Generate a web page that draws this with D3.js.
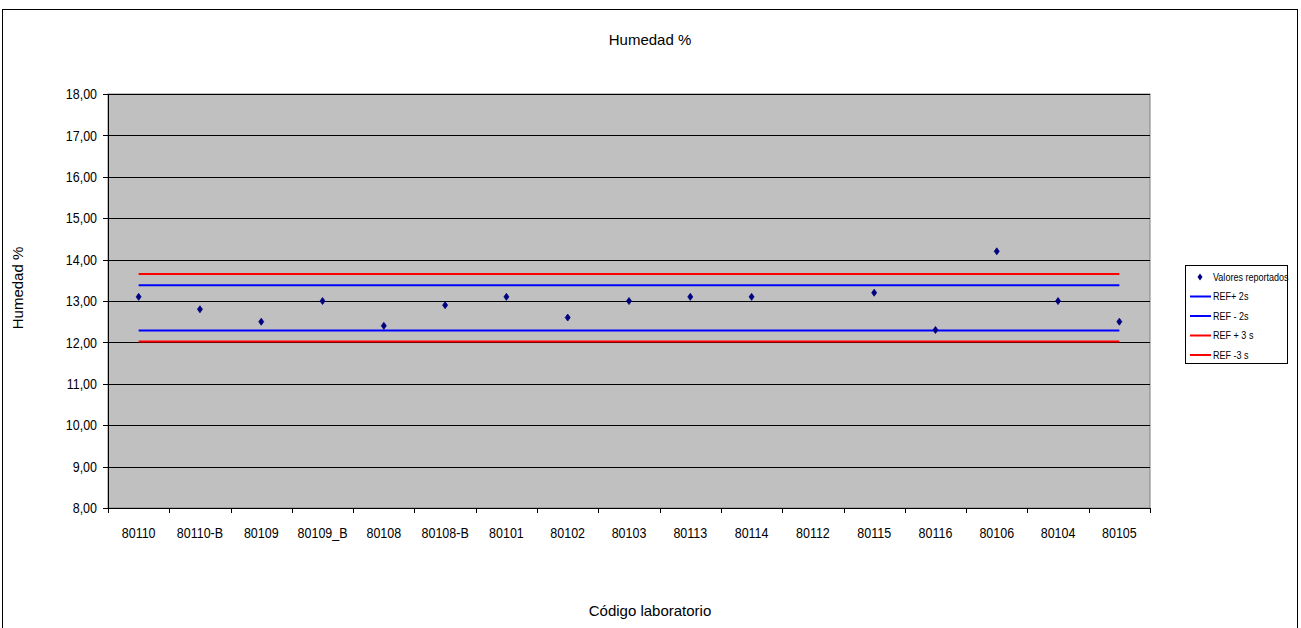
<!DOCTYPE html>
<html><head><meta charset="utf-8">
<script src="https://cdn.jsdelivr.net/npm/d3@7"></script>
<style>
html,body{margin:0;padding:0;background:#fff;}
svg{display:block;font-family:"Liberation Sans",Arial,sans-serif;}
</style></head>
<body>
<svg id="chart" width="1301" height="628"></svg>
<script>
const categories = ["80110","80110-B","80109","80109_B","80108","80108-B","80101","80102","80103","80113","80114","80112","80115","80116","80106","80104","80105"];
const reportedValues = [13.10,12.80,12.50,13.00,12.40,12.90,13.10,12.60,13.00,13.10,13.10,null,13.20,12.30,14.20,13.00,12.50];
const limitNames = ["REF+ 2s","REF - 2s","REF + 3 s","REF -3 s"];
const limitValues = [13.38,12.29,13.65,12.02];
const limitColors = ["#0000FF","#0000FF","#FF0000","#FF0000"];
const yTicks = [8,9,10,11,12,13,14,15,16,17,18];
const titleText = "Humedad %";
const yTitle = "Humedad %";
const xTitle = "Código laboratorio";
const pointLegend = "Valores reportados";

const svg = d3.select("#chart");
const plot = {left:108, right:1150, top:94, bottom:508};

// outer frame
svg.append("rect").attr("x",2.5).attr("y",9.5).attr("width",1295).attr("height",640)
  .attr("fill","#fff").attr("stroke","#000").attr("stroke-width",1);

const x = d3.scaleBand().domain(categories).range([plot.left, plot.right]);
const y = d3.scaleLinear().domain([8,18]).range([plot.bottom, plot.top]);
const cx = c => x(c) + x.bandwidth()/2;

// plot area
svg.append("rect").attr("x",plot.left).attr("y",plot.top)
  .attr("width",plot.right-plot.left).attr("height",plot.bottom-plot.top)
  .attr("fill","#C0C0C0").attr("stroke","#808080").attr("stroke-width",1);

// gridlines
svg.append("g").attr("transform",`translate(${plot.left},0)`)
  .call(d3.axisLeft(y).tickValues(yTicks.slice(1)).tickSize(-(plot.right-plot.left)).tickFormat(""))
  .call(g=>g.select(".domain").remove())
  .call(g=>g.selectAll("line").attr("stroke","#000").attr("stroke-width",1).attr("shape-rendering","crispEdges"));

// y axis
const fmt = v => d3.format(".2f")(v).replace(".",",");
svg.append("g").attr("class","narrow").attr("transform",`translate(${plot.left},0)`)
  .call(d3.axisLeft(y).tickValues(yTicks).tickSize(5).tickPadding(6).tickFormat(fmt))
  .call(g=>g.select(".domain").attr("stroke","#000").attr("shape-rendering","crispEdges"))
  .call(g=>g.selectAll("line").attr("stroke","#000").attr("shape-rendering","crispEdges"))
  .call(g=>g.selectAll("text").attr("font-size",14.5).attr("fill","#000").attr("font-family",null));

// x axis
svg.append("g").attr("class","narrow").attr("transform",`translate(0,${plot.bottom})`)
  .call(d3.axisBottom(x).tickSize(0).tickPadding(20))
  .call(g=>g.select(".domain").attr("stroke","#000").attr("shape-rendering","crispEdges"))
  .call(g=>g.selectAll("text").attr("font-size",14.5).attr("fill","#000").attr("font-family",null));
const bounds = categories.map(c=>x(c)).concat([plot.right]);
svg.append("g").selectAll("line").data(bounds).join("line")
  .attr("x1",d=>Math.round(d)+0.5).attr("x2",d=>Math.round(d)+0.5)
  .attr("y1",plot.bottom).attr("y2",plot.bottom+5)
  .attr("stroke","#000");

// limit lines
const lineGen = d3.line().x(d=>cx(d.c)).y(d=>y(d.v));
limitValues.forEach((v,i)=>{
  svg.append("path")
    .datum(categories.map(c=>({c,v})))
    .attr("d",lineGen).attr("fill","none")
    .attr("stroke",limitColors[i]).attr("stroke-width",2);
});

// points
const diamond = "M0,-3.5L2.5,0L0,3.5L-2.5,0Z";
svg.append("g").selectAll("path")
  .data(categories.map((c,i)=>({c,v:reportedValues[i]})).filter(d=>d.v!=null))
  .join("path")
  .attr("transform",d=>`translate(${cx(d.c)},${y(d.v)})`)
  .attr("d",diamond).attr("fill","#000080").attr("stroke","#000080").attr("stroke-width",0.8);

// titles
svg.append("text").attr("x",650).attr("y",45).attr("text-anchor","middle")
  .attr("font-size",15).text(titleText);
svg.append("text").attr("x",0).attr("y",0)
  .attr("transform","translate(23,288) rotate(-90)").attr("text-anchor","middle")
  .attr("font-size",15).text(yTitle);
svg.append("text").attr("x",650).attr("y",616).attr("text-anchor","middle")
  .attr("font-size",15).text(xTitle);

// legend
const lg = svg.append("g").attr("class","narrow");
lg.append("rect").attr("x",1185.5).attr("y",265.5).attr("width",102).attr("height",98)
  .attr("fill","#fff").attr("stroke","#000");
const ly0 = 277, lstep = 19.5;
lg.append("path").attr("d",diamond).attr("transform",`translate(1200,${ly0})`).attr("fill","#000080");
lg.append("text").attr("x",1213).attr("y",ly0+3.5).attr("font-size",10.5).text(pointLegend);
limitNames.forEach((n,i)=>{
  const yy = ly0 + lstep*(i+1);
  lg.append("line").attr("x1",1190).attr("x2",1211).attr("y1",yy).attr("y2",yy)
    .attr("stroke",limitColors[i]).attr("stroke-width",2);
  lg.append("text").attr("x",1213).attr("y",yy+3.5).attr("font-size",10.5).text(n);
});

// condense text to mimic a narrow face
svg.selectAll(".narrow text").each(function(){
  const L = this.getComputedTextLength();
  d3.select(this).attr("textLength", (L*0.86).toFixed(1)).attr("lengthAdjust","spacingAndGlyphs");
});
</script>
</body></html>
